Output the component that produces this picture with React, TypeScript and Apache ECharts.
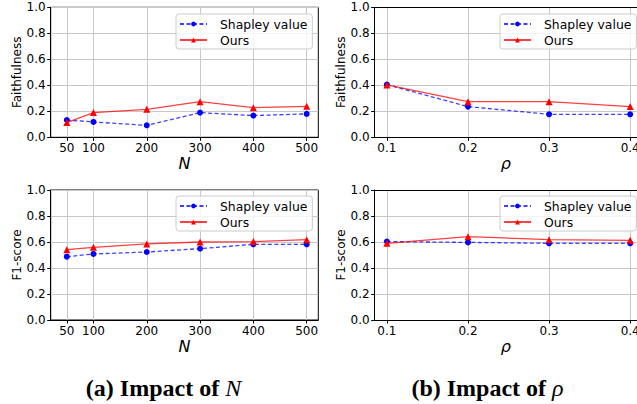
import React, { useEffect, useRef } from "react";
import * as echarts from "echarts";

const nValues = [50, 100, 200, 300, 400, 500];
const rhoValues = [0.1, 0.2, 0.3, 0.4];
const faithNShapley = [0.133, 0.118, 0.092, 0.19, 0.167, 0.18];
const faithNOurs = [0.113, 0.19, 0.215, 0.274, 0.228, 0.238];
const faithRhoShapley = [0.405, 0.236, 0.177, 0.177];
const faithRhoOurs = [0.403, 0.274, 0.274, 0.236];
const f1NShapley = [0.487, 0.508, 0.523, 0.549, 0.582, 0.582];
const f1NOurs = [0.541, 0.559, 0.585, 0.6, 0.603, 0.618];
const f1RhoShapley = [0.603, 0.597, 0.59, 0.59];
const f1RhoOurs = [0.59, 0.641, 0.618, 0.613];
const seriesNames = ["Shapley value", "Ours"];
const yLabels = ["Faithfulness", "Faithfulness", "F1-score", "F1-score"];
const xLabels = ["N", "ρ", "N", "ρ"];

const FONT = "DejaVu Sans";

export default function App() {
  const ref = useRef<HTMLDivElement>(null);
  useEffect(() => {
    if (!ref.current) return;
    const chart = echarts.init(ref.current, null, { renderer: "svg" });

    const isN = [true, false, true, false];

    const grids = [
      { left: 50.7, top: 7.3, right: 318.7, height: 130 },
      { left: 374.7, top: 7.3, right: 0, height: 130 },
      { left: 50.7, top: 190, right: 318.7, height: 130 },
      { left: 374.7, top: 190, right: 0, height: 130 },
    ].map((g, i) => ({
      ...g,
      show: isN[i],
      borderColor: "#000",
      borderWidth: 1,
      containLabel: false,
      outerBoundsMode: "none",
    }));

    const xMin = (n: boolean) => (n ? 19.8 : 0.085);
    const xMax = (n: boolean) => (n ? 521.8 : 0.4084);

    const xAxes: any[] = isN.map((n, i) => ({
      type: "value",
      gridIndex: i,
      min: xMin(n),
      max: xMax(n),
      name: xLabels[i],
      nameLocation: "middle",
      nameGap: 18,
      nameTextStyle: { fontFamily: FONT, fontSize: 16, fontStyle: "italic", color: "#000" },
      axisLine: { show: true, lineStyle: { color: "#000", width: 1 } },
      axisTick: {
        show: true,
        length: 3.5,
        lineStyle: { color: "#000" },
        customValues: n ? nValues : rhoValues,
      },
      axisLabel: {
        customValues: n ? nValues : rhoValues,
        fontFamily: FONT,
        fontSize: 12,
        color: "#000",
        margin: 5,
        formatter: (v: number) => (n ? String(v) : v.toFixed(1)),
      },
      splitLine: { show: true, lineStyle: { color: "#c8c8c8", width: 1 } },
    }));
    // top spine for the right-hand plots (their right side is cut off by the page edge)
    [1, 3].forEach((i) => {
      xAxes.push({
        type: "value",
        gridIndex: i,
        position: "top",
        min: xMin(false),
        max: xMax(false),
        axisLine: { show: true, lineStyle: { color: "#000", width: 1 } },
        axisTick: { show: false },
        axisLabel: { show: false },
        splitLine: { show: false },
      });
    });

    const yAxes = isN.map((n, i) => ({
      type: "value",
      gridIndex: i,
      min: 0,
      max: 1,
      interval: 0.2,
      name: yLabels[i],
      nameLocation: "middle",
      nameGap: n ? 23.5 : 27.5,
      nameTextStyle: { fontFamily: FONT, fontSize: 12, color: "#000" },
      axisLine: { show: true, lineStyle: { color: "#000", width: 1 } },
      axisTick: { show: true, length: 3.5, lineStyle: { color: "#000" } },
      axisLabel: {
        fontFamily: FONT,
        fontSize: 12,
        color: "#000",
        margin: 5,
        formatter: (v: number) => v.toFixed(1),
      },
      splitLine: { show: true, lineStyle: { color: "#c8c8c8", width: 1 } },
    }));

    const data = [
      [faithNShapley, faithNOurs],
      [faithRhoShapley, faithRhoOurs],
      [f1NShapley, f1NOurs],
      [f1RhoShapley, f1RhoOurs],
    ];

    const series: any[] = [];
    data.forEach((pair, i) => {
      const xs = isN[i] ? nValues : rhoValues;
      series.push({
        type: "line",
        name: seriesNames[0],
        xAxisIndex: i,
        yAxisIndex: i,
        data: xs.map((x, k) => [x, pair[0][k]]),
        symbol: "circle",
        symbolSize: 6,
        itemStyle: { color: "#0000ff" },
        lineStyle: { color: "rgba(0,0,255,0.75)", width: 1.3, type: [4, 2.5] },
        z: 3,
      });
      series.push({
        type: "line",
        name: seriesNames[1],
        xAxisIndex: i,
        yAxisIndex: i,
        data: xs.map((x, k) => [x, pair[1][k]]),
        symbol: "triangle",
        symbolSize: 7,
        itemStyle: { color: "#ff0000" },
        lineStyle: { color: "rgba(255,0,0,0.75)", width: 1.3, type: "solid" },
        z: 4,
      });
    });

    const legendPos = [
      { left: 176, top: 14 },
      { left: 500, top: 14 },
      { left: 176, top: 196 },
      { left: 500, top: 196 },
    ];
    const legends = legendPos.map((p) => ({
      ...p,
      orient: "vertical",
      data: seriesNames,
      itemWidth: 27,
      itemHeight: 6,
      itemGap: 4,
      padding: [4, 5, 3, 3],
      backgroundColor: "rgba(255,255,255,0.8)",
      borderColor: "#cccccc",
      borderWidth: 1,
      borderRadius: 3,
      selectedMode: false,
      textStyle: { fontFamily: FONT, fontSize: 12.4, color: "#000", padding: [0, 0, 0, 8] },
    }));

    const captionStyle = {
      rich: {
        b: { fontFamily: "Liberation Serif", fontWeight: "bold", fontSize: 24, color: "#000" },
        i: { fontFamily: "Liberation Serif", fontStyle: "italic", fontSize: 24, color: "#000" },
      },
    };

    chart.setOption({
      animation: false,
      backgroundColor: "#fff",
      grid: grids,
      xAxis: xAxes,
      yAxis: yAxes,
      legend: legends,
      series,
      graphic: [
        {
          type: "text",
          x: 163.5,
          y: 388,
          style: {
            text: "{b|(a) Impact of }{i|N}",
            align: "center",
            verticalAlign: "middle",
            ...captionStyle,
          },
        },
        {
          type: "text",
          x: 487.5,
          y: 388,
          style: {
            text: "{b|(b) Impact of }{i|ρ}",
            align: "center",
            verticalAlign: "middle",
            ...captionStyle,
          },
        },
      ],
    });
    return () => chart.dispose();
  }, []);
  return (
    <div
      ref={ref}
      style={{ position: "fixed", left: 0, top: 0, width: 637, height: 404, background: "#fff" }}
    />
  );
}
